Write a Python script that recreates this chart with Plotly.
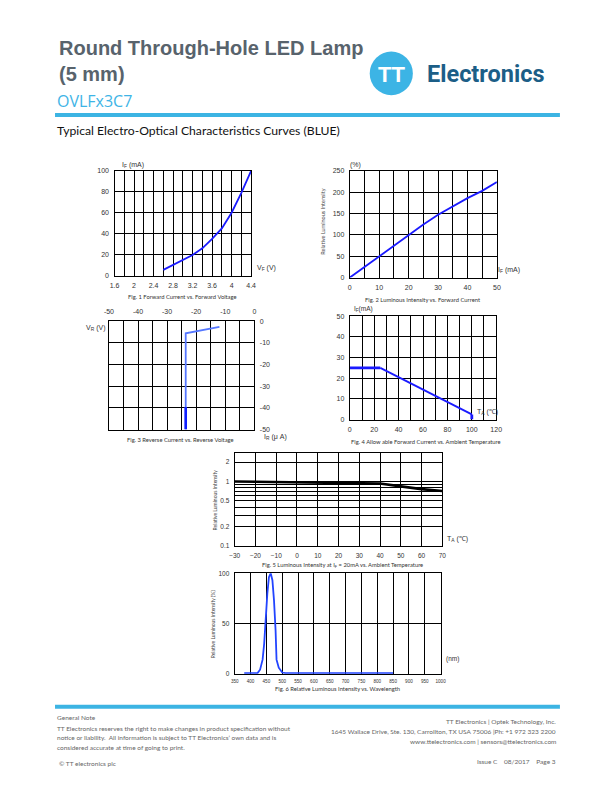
import plotly.graph_objects as go

W, H = 612, 792

# ---------------- data ----------------
# Fig 1: Forward current vs forward voltage
fig1_vf = [2.6, 2.8, 3.0, 3.2, 3.4, 3.6, 3.8, 4.0, 4.2, 4.4]
fig1_if = [5.4, 10, 15, 19.6, 26, 35, 45, 60, 79, 100]
fig1_xticks = [1.6, 2.0, 2.4, 2.8, 3.2, 3.6, 4.0, 4.4]
fig1_xlabels = ['1.6', '2', '2.4', '2.8', '3.2', '3.6', '4', '4.4']
fig1_xgrid = [1.8, 2.2, 2.6, 3.0, 3.4, 3.8, 4.2]
fig1_yticks = [0, 20, 40, 60, 80, 100]

# Fig 2: Luminous intensity vs forward current
fig2_if = [0, 5, 10, 15, 20, 25, 30, 35, 40, 45, 50]
fig2_rel = [0, 25, 50, 75, 100, 124, 147, 167, 186, 203, 224]
fig2_xticks = [0, 10, 20, 30, 40, 50]
fig2_xgrid = [5, 15, 25, 35, 45]
fig2_yticks = [0, 50, 100, 150, 200, 250]

# Fig 3: Reverse current vs reverse voltage
fig3_ir = [-12, -23.6, -23.6]
fig3_vr = [-2.6, -5.6, -50]
fig3_ir_dark = [-23.6, -23.6]
fig3_vr_dark = [-39.6, -50]
fig3_xticks = [-50, -40, -30, -20, -10, 0]
fig3_xlabels = ['-50', '-40', '-30', '-20', '-10', '0']
fig3_xgrid = [-45, -35, -25, -15, -5]
fig3_yticks = [-50, -40, -30, -20, -10, 0]
fig3_ylabels = ['-50', '-40', '-30', '-20', '-10', '0']

# Fig 4: Allowable forward current vs ambient temperature
fig4_ta = [0, 25, 100, 100]
fig4_if = [25, 25, 2.5, 0]
fig4_xticks = [0, 20, 40, 60, 80, 100, 120]
fig4_xgrid = [10, 30, 50, 70, 90, 110]
fig4_yticks = [0, 10, 20, 30, 40, 50]

# Fig 5: Relative luminous intensity vs ambient temperature
fig5_ta = [-30, -20, -10, 0, 10, 20, 30, 40, 50, 60, 70]
fig5_rel = [1.0, 0.99, 0.985, 0.98, 0.975, 0.97, 0.96, 0.93, 0.84, 0.76, 0.71]
fig5_xticks = [-30, -20, -10, 0, 10, 20, 30, 40, 50, 60, 70]
fig5_xlabels = ['\u221230', '\u221220', '\u221210', '0', '10', '20', '30', '40', '50', '60', '70']
fig5_yticks = [0.1, 0.2, 0.5, 1, 2]
fig5_ylabels = ['0.1', '0.2', '0.5', '1', '2']
fig5_ygrid = [0.3, 0.4, 0.6, 0.7, 0.8, 0.9]

# Fig 6: Relative luminous intensity vs wavelength
fig6_wl = [380, 422, 430, 438, 443, 448, 453, 458, 463.6, 469, 474, 479, 482, 489, 500, 510, 850]
fig6_rel = [0.6, 0.6, 4, 14, 30, 57, 80, 96, 100, 93, 73, 43, 14, 6, 1.2, 0.6, 0.6]
fig6_xticks = [350, 400, 450, 500, 550, 600, 650, 700, 750, 800, 850, 900, 950, 1000]
fig6_yticks = [0, 50, 100]

# ---------------- helpers ----------------
def px(x):
    return x / W

def py(y):
    return 1 - y / H


def axis(dom, rng, tickvals, ticktext=None, grid=None, fsize=7, **kw):
    d = dict(domain=dom, range=rng, showline=True, linecolor='black', linewidth=1.2,
             mirror=True, showgrid=True, gridcolor='black', gridwidth=1, zeroline=False,
             ticks='outside', ticklen=3, tickcolor='rgba(0,0,0,0)',
             tickmode='array', tickvals=tickvals,
             tickfont=dict(family='Liberation Sans', size=fsize, color='#333333'),
             fixedrange=True)
    if ticktext is not None:
        d['ticktext'] = ticktext
    if grid is not None:
        d['minor'] = dict(tickmode='array', tickvals=grid, showgrid=True,
                          gridcolor='black', gridwidth=1, ticks='')
    d.update(kw)
    return d

BLUE = '#1a1aff'

fig = go.Figure()

fig.add_trace(go.Scatter(x=fig1_vf, y=fig1_if, mode='lines', line=dict(color=BLUE, width=1.8),
                         xaxis='x', yaxis='y', showlegend=False))
fig.add_trace(go.Scatter(x=fig2_if, y=fig2_rel, mode='lines', line=dict(color=BLUE, width=1.8),
                         xaxis='x2', yaxis='y2', showlegend=False))
fig.add_trace(go.Scatter(x=fig3_ir, y=fig3_vr, mode='lines', line=dict(color='#5577ff', width=1.8),
                         xaxis='x3', yaxis='y3', showlegend=False))
fig.add_trace(go.Scatter(x=fig3_ir_dark, y=fig3_vr_dark, mode='lines', line=dict(color='#1020ff', width=2.6),
                         xaxis='x3', yaxis='y3', showlegend=False))
fig.add_trace(go.Scatter(x=fig4_ta[:2], y=fig4_if[:2], mode='lines', line=dict(color=BLUE, width=2.8),
                         xaxis='x4', yaxis='y4', showlegend=False))
fig.add_trace(go.Scatter(x=fig4_ta[1:3], y=fig4_if[1:3], mode='lines', line=dict(color=BLUE, width=1.8),
                         xaxis='x4', yaxis='y4', showlegend=False))
fig.add_trace(go.Scatter(x=fig4_ta[2:], y=fig4_if[2:], mode='lines', line=dict(color=BLUE, width=2.8),
                         xaxis='x4', yaxis='y4', showlegend=False))
fig.add_trace(go.Scatter(x=fig5_ta, y=fig5_rel, mode='lines', line=dict(color='black', width=2.6),
                         xaxis='x5', yaxis='y5', showlegend=False))
fig.add_trace(go.Scatter(x=fig6_wl, y=fig6_rel, mode='lines', line=dict(color='#2244ff', width=1.8),
                         xaxis='x6', yaxis='y6', showlegend=False))

def dx(a, b):
    return [px(a), px(b)]

def dy(top, bottom):
    return [py(bottom), py(top)]

layout = dict(
    width=W, height=H, margin=dict(l=0, r=0, t=0, b=0),
    paper_bgcolor='white', plot_bgcolor='white', showlegend=False,
    xaxis=axis(dx(110.7, 250), [1.6, 4.4], fig1_xticks, fig1_xlabels, fig1_xgrid, anchor='y'),
    yaxis=axis(dy(168.3, 274), [0, 100], fig1_yticks, anchor='x'),
    xaxis2=axis(dx(350.7, 500.7), [0, 50], fig2_xticks, None, fig2_xgrid, anchor='y2'),
    yaxis2=axis(dy(168.3, 276), [0, 250], fig2_yticks, anchor='x2'),
    xaxis3=axis(dx(105, 253.3), [-50, 0], fig3_xticks, fig3_xlabels, fig3_xgrid, anchor='y3', side='top'),
    yaxis3=axis(dy(320, 429.3), [-50, 0], fig3_yticks, fig3_ylabels, anchor='x3', side='right'),
    xaxis4=axis(dx(350.7, 500), [0, 120], fig4_xticks, None, fig4_xgrid, anchor='y4'),
    yaxis4=axis(dy(315, 419.3), [0, 50], fig4_yticks, anchor='x4'),
    xaxis5=axis(dx(233.3, 445), [-30, 70], fig5_xticks, fig5_xlabels, fsize=6.5, anchor='y5'),
    yaxis5=axis(dy(452.7, 546.7), [-1, 0.447], fig5_yticks, fig5_ylabels, fig5_ygrid, fsize=6.5,
                anchor='x5', type='log'),
    xaxis6=axis(dx(233.3, 443.3), [350, 1000], fig6_xticks, fsize=4.6, anchor='y6'),
    yaxis6=axis(dy(574.3, 675.7), [0, 100], fig6_yticks, fsize=6.5, anchor='x6'),
)
fig.update_layout(**layout)

# ---------------- shapes (header / footer decoration) ----------------
shapes = [
    dict(type='rect', xref='paper', yref='paper', x0=px(50), x1=px(565), y0=py(114), y1=py(110),
         fillcolor='#3cb4e3', line=dict(width=0)),
    dict(type='rect', xref='paper', yref='paper', x0=px(50), x1=px(565), y0=py(711), y1=py(707),
         fillcolor='#3cb4e3', line=dict(width=0)),
    dict(type='circle', xref='paper', yref='paper', x0=px(371), x1=px(415), y0=py(92), y1=py(48),
         fillcolor='#3cb4e5', line=dict(width=0)),
]
fig.update_layout(shapes=shapes)

# ---------------- annotations ----------------
ann = []

def text(x, y, s, size=7, family='Liberation Sans', color='#333333', xanchor='left', angle=0):
    ann.append(dict(x=px(x), y=py(y), xref='paper', yref='paper', text=s, showarrow=False,
                    xanchor=xanchor, yanchor='middle', textangle=angle,
                    font=dict(family=family, size=size, color=color)))

# header
text(52, 44, '<b>Round Through-Hole LED Lamp</b>', 20, 'Liberation Sans', '#58636c')
text(52, 71, '<b>(5 mm)</b>', 20, 'Liberation Sans', '#58636c')
text(50, 98, 'OVLFx3C7', 16, 'Open Sans', '#3eb4e6')
text(50, 128, 'Typical Electro-Optical Characteristics Curves (BLUE)', 12.2, 'Lato', '#111111')
text(393, 71, '<b>TT</b>', 22, 'Liberation Sans', 'white', 'center')
text(427, 71, '<b>Electronics</b>', 23.5, 'Roboto', '#1c5e87')

# fig 1
text(116, 162, 'I<sub>F</sub> (mA)')
text(254, 266, 'V<sub>F</sub> (V)')
text(180, 295, 'Fig. 1 Forward Current vs. Forward Voltage', 5.8, 'Lato', '#333333', 'center')
# fig 2
text(349, 162, '(%)')
text(500, 268, 'I<sub>F</sub> (mA)')
text(323, 220, 'Relative Luminous Intensity', 5.5, 'Lato', '#444444', 'center', -90)
text(425, 298, 'Fig. 2 Luminous Intensity vs. Forward Current', 5.8, 'Lato', '#333333', 'center')
# fig 3
text(80, 327, 'V<sub>R</sub> (V)')
text(261, 437, 'I<sub>R</sub> (\u03bc A)')
text(178, 439, 'Fig. 3 Reverse Current vs. Reverse Voltage', 5.8, 'Lato', '#333333', 'center')
# fig 4
text(353, 308, 'I<sub>F</sub>(mA)', 6.5)
text(478, 412, 'T<sub>A</sub> (\u2103)')
text(428, 441, 'Fig. 4 Allow able Forward Current vs. Ambient Temperature', 5.8, 'Lato', '#333333', 'center')
# fig 5
text(213, 500, 'Relative Luminous Intensity', 5, 'Lato', '#444444', 'center', -90)
text(448, 540, 'T<sub>A</sub> (\u2103)')
text(343, 566, 'Fig. 5 Luminous Intensity at I<sub>F</sub> = 20mA vs. Ambient Temperature', 5.8, 'Lato', '#333333', 'center')
# fig 6
text(212, 625, 'Relative Luminous Intensity (%)', 5, 'Lato', '#444444', 'center', -90)
text(447, 661, '(nm)', 6.5)
text(338, 691, 'Fig. 6 Relative Luminous Intensity vs. Wavelength', 5.8, 'Lato', '#333333', 'center')

# footer
FC = '#666666'
FS = 6.5
text(50, 720, 'General Note', FS, 'Lato', FC)
text(50, 730.5, 'TT Electronics reserves the right to make changes in product specification without', FS, 'Lato', FC)
text(50, 740.5, 'notice or liability.  All information is subject to TT Electronics\u2019 own data and is', FS, 'Lato', FC)
text(50, 750.5, 'considered accurate at time of going to print.', FS, 'Lato', FC)
text(52, 766, '\u00a9 TT electronics plc', FS, 'Lato', FC)
text(563, 724, 'TT Electronics | Optek Technology, Inc.', FS, 'Lato', FC, 'right')
text(563, 734, '1645 Wallace Drive, Ste. 130, Carrollton, TX USA 75006 |Ph: +1 972 323 2200', FS, 'Lato', FC, 'right')
text(563, 744, 'www.ttelectronics.com | sensors@ttelectronics.com', FS, 'Lato', FC, 'right')
text(563, 764, 'Issue C &nbsp;&nbsp; 08/2017 &nbsp;&nbsp; Page 3', FS, 'Lato', FC, 'right')

fig.update_layout(annotations=ann)

fig.write_html('out.html', config={'displayModeBar': False},
               post_script="document.body.style.margin='0';document.body.style.padding='0';")
